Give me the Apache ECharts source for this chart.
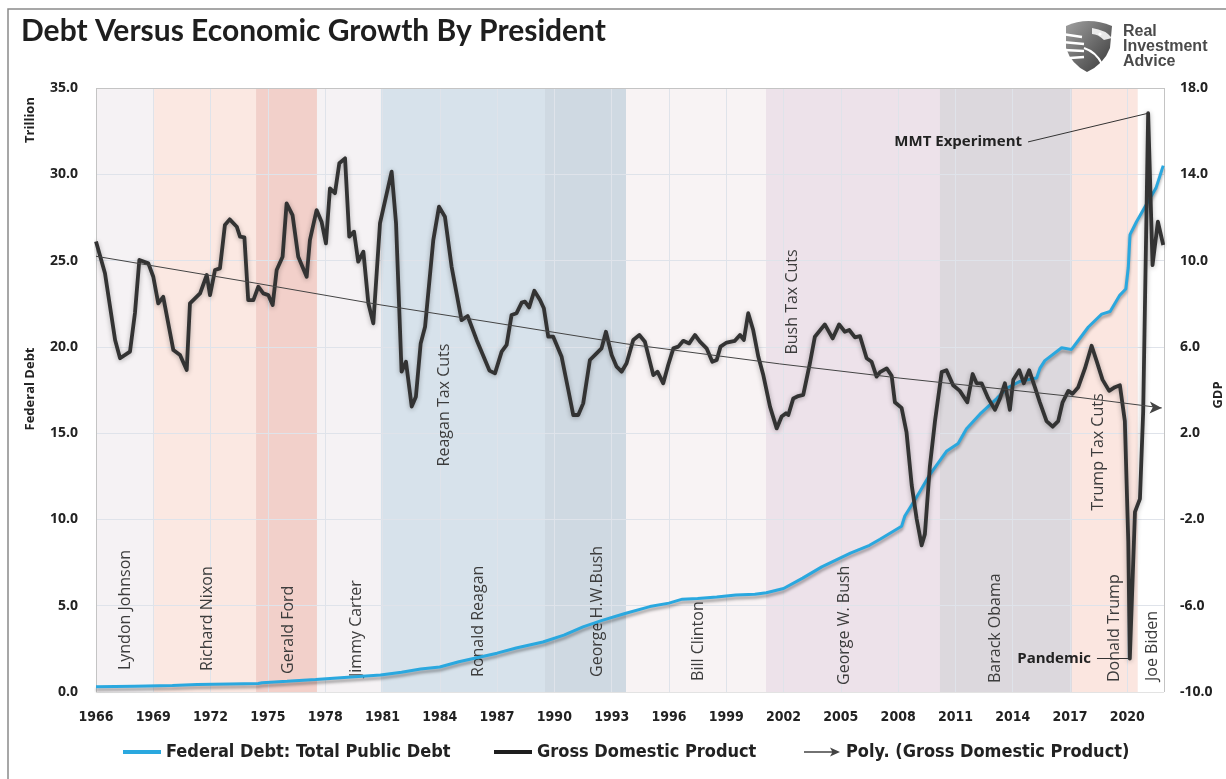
<!DOCTYPE html>
<html>
<head>
<meta charset="utf-8">
<script src="https://cdn.jsdelivr.net/npm/echarts@6/dist/echarts.min.js"></script>
<style>
html,body{margin:0;padding:0;background:#fff;}
#chart{width:1226px;height:779px;}
</style>
</head>
<body>
<div id="chart"></div>
<script>
// ---------------- DATA ----------------
const xTickYears = [1966,1969,1972,1975,1978,1981,1984,1987,1990,1993,1996,1999,2002,2005,2008,2011,2014,2017,2020];
const debtTicks = [0,5,10,15,20,25,30,35];
const gdpTicks = [-10,-6,-2,2,6,10,14,18];

// Federal Debt: Total Public Debt (trillions) [year, value]
const debt = [
[1966.0,0.30],[1968.0,0.34],[1970.0,0.38],[1971.3,0.44],[1973.0,0.47],[1974.5,0.49],[1974.7,0.54],[1976.0,0.62],
[1977.5,0.72],[1979.0,0.84],[1980.9,0.98],[1982.0,1.15],[1983.0,1.33],[1984.0,1.45],[1985.0,1.75],[1986.0,2.0],
[1987.0,2.25],[1988.0,2.55],[1989.4,2.9],[1990.5,3.3],[1991.5,3.77],[1992.5,4.15],[1993.7,4.55],[1995.0,4.95],
[1996.0,5.15],[1996.7,5.38],[1997.5,5.42],[1998.5,5.5],[1999.5,5.62],[2000.5,5.66],[2001.1,5.75],[2002.0,6.0],
[2003.0,6.6],[2004.0,7.25],[2005.5,8.05],[2006.5,8.5],[2007.05,8.85],[2008.18,9.6],[2008.35,10.2],[2008.97,11.3],
[2009.66,12.6],[2010.53,13.95],[2011.14,14.4],[2011.58,15.25],[2012.28,16.1],[2013.16,17.0],[2013.68,17.6],
[2014.38,18.0],[2015.25,18.2],[2015.42,18.75],[2015.68,19.2],[2016.56,19.95],[2017.08,19.85],[2017.52,20.5],
[2017.96,21.15],[2018.66,21.9],[2019.1,22.05],[2019.61,23.0],[2019.92,23.35],[2020.05,24.6],[2020.14,26.5],
[2020.48,27.25],[2020.92,28.1],[2021.18,28.6],[2021.5,29.2],[2021.88,30.5]
];

// Gross Domestic Product (%) [year, value]
const gdp = [
[1966.0,10.88],[1966.47,9.41],[1967.0,6.32],[1967.26,5.47],[1967.78,5.78],[1968.04,7.57],[1968.27,10.03],[1968.74,9.87],
[1969.0,9.25],[1969.26,8.02],[1969.52,8.32],[1970.05,5.85],[1970.4,5.62],[1970.75,4.93],[1970.92,8.02],[1971.45,8.48],
[1971.8,9.33],[1971.97,8.40],[1972.23,9.56],[1972.49,9.64],[1972.75,11.65],[1973.0,11.91],[1973.37,11.57],[1973.54,11.11],
[1973.77,11.08],[1973.97,8.17],[1974.24,8.17],[1974.5,8.79],[1974.76,8.48],[1975.02,8.40],[1975.25,7.94],[1975.46,9.56],
[1975.77,10.18],[1975.98,12.65],[1976.29,12.11],[1976.59,10.18],[1977.03,9.25],[1977.2,10.95],[1977.55,12.34],[1977.81,11.8],
[1978.04,10.8],[1978.25,13.35],[1978.51,13.12],[1978.74,14.51],[1979.04,14.74],[1979.26,11.11],[1979.51,11.34],[1979.73,9.95],
[1980.0,10.41],[1980.26,8.02],[1980.52,7.09],[1980.87,11.73],[1981.48,14.12],[1981.71,11.73],[1982.0,4.85],[1982.23,5.31],
[1982.53,3.23],[1982.75,3.69],[1983.0,6.16],[1983.23,6.93],[1983.66,10.95],[1983.96,12.5],[1984.27,12.03],[1984.62,9.71],
[1985.14,7.24],[1985.46,7.43],[1985.93,6.32],[1986.6,4.9],[1986.89,4.77],[1987.24,5.78],[1987.5,6.09],[1987.76,7.48],
[1988.02,7.56],[1988.29,8.05],[1988.46,8.10],[1988.68,7.83],[1988.95,8.6],[1989.25,8.17],[1989.45,7.79],[1989.68,6.47],
[1989.94,6.47],[1990.38,5.54],[1990.73,4.0],[1990.99,2.84],[1991.25,2.84],[1991.51,3.38],[1991.86,5.39],[1992.21,5.70],
[1992.47,5.93],[1992.7,6.70],[1993.0,5.62],[1993.26,5.08],[1993.52,4.85],[1993.78,5.24],[1994.13,6.32],[1994.45,6.55],
[1994.74,6.24],[1995.18,4.69],[1995.4,4.85],[1995.7,4.31],[1995.96,5.16],[1996.23,5.93],[1996.49,6.01],[1996.75,6.28],
[1997.06,6.16],[1997.36,6.55],[1997.62,6.24],[1997.97,5.93],[1998.27,5.31],[1998.5,5.39],[1998.7,6.01],[1999.02,6.2],
[1999.45,6.28],[1999.72,6.55],[1999.92,6.32],[2000.15,7.56],[2000.41,6.78],[2000.68,5.54],[2000.94,4.69],[2001.29,3.23],
[2001.64,2.22],[2001.9,2.77],[2002.13,2.92],[2002.25,2.84],[2002.51,3.61],[2002.77,3.72],[2003.03,3.77],[2003.38,5.24],
[2003.64,6.47],[2004.16,7.04],[2004.57,6.39],[2004.91,7.04],[2005.21,6.7],[2005.44,6.78],[2005.74,6.44],[2006.0,6.5],
[2006.35,5.47],[2006.61,5.31],[2006.87,4.62],[2007.05,4.83],[2007.40,5.0],[2007.66,4.66],[2007.83,3.43],[2008.18,3.17],
[2008.44,2.03],[2008.71,-0.41],[2008.97,-1.98],[2009.23,-3.2],[2009.40,-2.68],[2009.66,0.46],[2009.93,2.56],[2010.28,4.83],
[2010.53,4.92],[2010.88,4.22],[2011.23,3.96],[2011.62,3.43],[2011.90,4.74],[2012.11,4.31],[2012.37,4.31],[2012.72,3.61],
[2013.07,3.08],[2013.33,3.61],[2013.59,4.31],[2013.85,3.08],[2014.03,4.48],[2014.34,4.92],[2014.58,4.31],[2014.86,4.92],
[2015.16,4.13],[2015.42,3.43],[2015.77,2.56],[2016.09,2.30],[2016.38,2.56],[2016.61,3.43],[2016.91,3.96],[2017.13,3.82],
[2017.43,4.13],[2017.78,5.0],[2018.13,6.05],[2018.39,5.35],[2018.70,4.48],[2019.05,3.96],[2019.35,4.13],[2019.61,4.22],
[2019.87,2.56],[2020.05,-3.03],[2020.13,-8.45],[2020.40,-1.65],[2020.66,-1.05],[2020.83,3.0],[2021.09,16.83],[2021.32,9.79],
[2021.6,11.8],[2021.88,10.72]
];

// Poly. trend of GDP [year, value]
const gdpTrend = [
[1966.0,10.2],[1974.38,8.95],[1980.87,7.95],[1986.63,7.15],[1993.75,6.14],[2001.8,5.21],[2008.1,4.55],[2017.1,3.7],[2021.8,3.17]
];

const presidents = ['Lyndon Johnson','Richard Nixon','Gerald Ford','Jimmy Carter','Ronald Reagan','George H.W.Bush','Bill Clinton','George W. Bush','Barack Obama','Donald Trump','Joe Biden'];
const termStart = [1966.0,1969.04,1974.38,1977.57,1980.92,1989.51,1993.75,2001.08,2010.19,2017.10,2020.55];
const termEnd   = [1969.04,1974.38,1977.57,1980.92,1989.51,1993.75,2001.08,2010.19,2017.10,2020.55,2021.92];

const taxCuts = ['Reagan Tax Cuts','Bush Tax Cuts','Trump Tax Cuts'];

// ---------------- STYLE / LAYOUT ----------------
const X_MIN = 1966, X_MAX = 2021.92;
const bandColors = ['#f5f2f4','#fbe8e2','#f2d0ca','#f5f2f4','#d7e2eb','#cfd9e2','#f8f3f4','#ede2ea','#dcd8dd','#fbe6e0','#ffffff'];
const nameAnchorX = [1967.52,1971.86,1976.05,1979.66,1986.0,1992.28,1997.52,2005.21,2013.07,2019.35,2021.34];
const nameAnchorY = [1.27,1.22,1.05,0.87,0.87,0.87,0.64,0.41,0.52,0.58,0.64];
const taxAnchor = [[1984.27,16.63],[2002.49,22.6],[2018.47,13.9]];

const UI = "'Open Sans','Liberation Sans',sans-serif";
const NARROW = "'Liberation Sans Narrow','DejaVu Sans Condensed','Liberation Sans',sans-serif";

const lineIcon = 'path://M0,0 M38,12 M0,4 L38,4 L38,8 L0,8 Z';
const arrowIcon = 'path://M0,0 M38,12 M1,5.3 L31,5.3 L31,6.7 L1,6.7 Z M27,1.5 L37,6 L27,10.5 L29.5,6 Z';

const gridLineColor = '#dfe3ea';
const edgeColor = '#c4c4c4';

const logoSvg = 'data:image/svg+xml;charset=utf-8,' + encodeURIComponent(
  '<svg xmlns="http://www.w3.org/2000/svg" width="52" height="56" viewBox="0 0 52 56">' +
  '<defs><linearGradient id="g" x1="0" y1="0" x2="1" y2="1"><stop offset="0" stop-color="#a0a0a0"/><stop offset="1" stop-color="#383838"/></linearGradient></defs>' +
  '<path d="M4,8 Q26,-2 50,8 L48,30 Q42,46 25,54 Q9,46 4,30 Z" fill="url(#g)"/>' +
  '<path d="M30,10 Q44,12 50,20 L42,22 Q36,16 30,16 Z" fill="#fff" opacity="0.85"/>' +
  '<circle cx="38" cy="16" r="1.6" fill="#fff"/>' +
  '<path d="M0,16 L20,19 M0,24 L22,26 M2,32 L22,33 M8,40 L22,39" stroke="#fff" stroke-width="2.5" fill="none"/>' +
  '<path d="M22,30 Q34,34 40,46" stroke="#fff" stroke-width="2" fill="none"/>' +
  '</svg>');

const gridMarks = []
  .concat(xTickYears.slice(1).map(v => ({xAxis: v})))
  .concat(debtTicks.slice(1, -1).map(v => ({yAxis: v})))
  .concat([{xAxis: X_MIN, lineStyle:{color: edgeColor}}, {xAxis: X_MAX, lineStyle:{color: edgeColor}},
           {yAxis: 0, lineStyle:{color: '#e3e3e3'}}, {yAxis: 35, lineStyle:{color: edgeColor}}]);

const bandAreas = presidents.map((p, i) => [
  {xAxis: termStart[i], itemStyle: {color: bandColors[i]}},
  {xAxis: termEnd[i]}
]);

const nameLabels = presidents.map((p, i) => ({
  name: p, coord: [nameAnchorX[i], nameAnchorY[i]], value: p
}));
const taxLabels = taxCuts.map((t, i) => ({
  name: t, coord: taxAnchor[i], value: t,
  label: {align: 'center'}
}));

const trendData = gdpTrend.map((p, i) => i === gdpTrend.length - 1
  ? {value: p, symbol: 'arrow', symbolSize: [9, 12], symbolRotate: -92}
  : p);

const legendCommon = {
  orient: 'horizontal', top: 743, itemWidth: 38, itemHeight: 12, padding: 0,
  selectedMode: false,
  textStyle: {fontFamily: NARROW, fontWeight: 'bold', fontSize: 18, color: '#222'},
  itemStyle: {borderWidth: 0, shadowBlur: 0}
};

const chart = echarts.init(document.getElementById('chart'), null, {renderer: 'canvas'});

chart.setOption({
  animation: false,
  backgroundColor: '#ffffff',
  title: {
    text: 'Debt Versus Economic Growth By President',
    left: 21, top: 16, padding: 0,
    textStyle: {fontFamily: "Lato,'Open Sans',sans-serif", fontWeight: 'bold', fontSize: 30, color: '#1e1e1e'}
  },
  legend: [
    Object.assign({}, legendCommon, {left: 123, data: [{name: 'Federal Debt: Total Public Debt', icon: lineIcon}]}),
    Object.assign({}, legendCommon, {left: 494, data: [{name: 'Gross Domestic Product', icon: lineIcon}]}),
    Object.assign({}, legendCommon, {left: 803, data: [{name: 'Poly. (Gross Domestic Product)', icon: arrowIcon}]})
  ],
  grid: {left: 96, right: 62, top: 88, bottom: 87, containLabel: false},
  xAxis: {
    type: 'value', min: X_MIN, max: X_MAX, interval: 3,
    axisLine: {show: false},
    axisTick: {show: false, customValues: xTickYears},
    splitLine: {show: false},
    axisLabel: {
      customValues: xTickYears, margin: 18,
      fontFamily: NARROW, fontWeight: 'bold', fontSize: 14, color: '#222',
      formatter: v => String(Math.round(v))
    }
  },
  yAxis: [
    {
      type: 'value', min: 0, max: 35, interval: 5, position: 'left',
      axisLine: {show: false}, axisTick: {show: false}, splitLine: {show: false},
      axisLabel: {margin: 18, fontFamily: UI, fontWeight: 'bold', fontSize: 14, color: '#222',
                  formatter: v => v.toFixed(1)}
    },
    {
      type: 'value', min: -10, max: 18, interval: 4, position: 'right',
      axisLine: {show: false}, axisTick: {show: false}, splitLine: {show: false},
      axisLabel: {margin: 16, fontFamily: UI, fontWeight: 'bold', fontSize: 14, color: '#222',
                  formatter: v => v.toFixed(1)}
    }
  ],
  series: [
    {
      name: 'bands', type: 'line', data: [], yAxisIndex: 0, silent: true,
      markArea: {silent: true, z: 1, data: bandAreas},
      markPoint: {
        silent: true, z: 5, symbol: 'rect', symbolSize: 0,
        label: {
          show: true, position: [0, 0], rotate: 90, align: 'left', verticalAlign: 'middle',
          fontFamily: UI, fontSize: 16, color: '#3c3c3c', formatter: p => p.name
        },
        data: nameLabels.concat(taxLabels)
      }
    },
    {
      name: 'gridlines', type: 'line', data: [], yAxisIndex: 0, silent: true,
      markLine: {
        silent: true, z: 3, symbol: ['none', 'none'], label: {show: false},
        lineStyle: {color: gridLineColor, width: 1, type: 'solid'},
        data: gridMarks
      }
    },
    {
      name: 'Federal Debt: Total Public Debt', type: 'line', yAxisIndex: 0, z: 10,
      data: debt, symbol: 'none', color: '#2aa8df',
      lineStyle: {width: 3, color: '#2aa8df', shadowColor: 'rgba(0,0,0,0.35)', shadowBlur: 3, shadowOffsetY: 3}
    },
    {
      name: 'Gross Domestic Product', type: 'line', yAxisIndex: 1, z: 11,
      data: gdp, symbol: 'none', color: '#1e1e1e',
      lineStyle: {width: 3.8, color: '#333333', join: 'round', shadowColor: 'rgba(0,0,0,0.3)', shadowBlur: 5, shadowOffsetY: 1},
      markLine: {
        silent: true, z: 12, symbol: ['none', 'none'], label: {show: false},
        lineStyle: {color: '#333', width: 1, type: 'solid'},
        data: [
          [{coord: [2014.8, 15.5]}, {coord: [2021.09, 16.83]}],
          [{coord: [2018.41, -8.45]}, {coord: [2020.13, -8.45]}]
        ]
      },
      markPoint: {
        silent: true, z: 12, symbol: 'rect', symbolSize: 0,
        label: {show: true, position: 'left', distance: 6, fontFamily: UI, fontWeight: 'bold',
                fontSize: 15, color: '#222', formatter: p => p.name},
        data: [
          {name: 'MMT Experiment', coord: [2014.8, 15.5]},
          {name: 'Pandemic', coord: [2018.41, -8.45]}
        ]
      }
    },
    {
      name: 'Poly. (Gross Domestic Product)', type: 'line', yAxisIndex: 1, z: 13,
      data: trendData, symbol: 'none', showSymbol: true, clip: false, color: '#444',
      itemStyle: {color: '#444'},
      lineStyle: {width: 1, color: '#444'}
    }
  ],
  graphic: [
    {type: 'rect', z: 100, silent: true, shape: {x: 8, y: 9, width: 1240, height: 800},
     style: {fill: 'none', stroke: '#8a8a8a', lineWidth: 1.5}},
    {type: 'text', z: 100, x: 30, y: 120, rotation: Math.PI / 2,
     style: {text: 'Trillion', font: "bold 13px 'Open Sans', sans-serif", fill: '#222', align: 'center', verticalAlign: 'middle'}},
    {type: 'text', z: 100, x: 30, y: 389, rotation: Math.PI / 2,
     style: {text: 'Federal Debt', font: "bold 13px 'Open Sans', sans-serif", fill: '#222', align: 'center', verticalAlign: 'middle'}},
    {type: 'text', z: 100, x: 1218, y: 395, rotation: Math.PI / 2,
     style: {text: 'GDP', font: "bold 13px 'Open Sans', sans-serif", fill: '#222', align: 'center', verticalAlign: 'middle'}},
    {type: 'image', z: 100, silent: true, style: {image: logoSvg, x: 1062, y: 18, width: 52, height: 56}},
    {type: 'text', x: 1123, y: 24, z: 100, style: {text: 'Real', font: "bold 16px 'Liberation Sans', sans-serif", fill: '#4a4a4a'}},
    {type: 'text', x: 1123, y: 39, z: 100, style: {text: 'Investment', font: "bold 16px 'Liberation Sans', sans-serif", fill: '#4a4a4a'}},
    {type: 'text', x: 1123, y: 54, z: 100, style: {text: 'Advice', font: "bold 16px 'Liberation Sans', sans-serif", fill: '#4a4a4a'}}
  ]
});
</script>
</body>
</html>
